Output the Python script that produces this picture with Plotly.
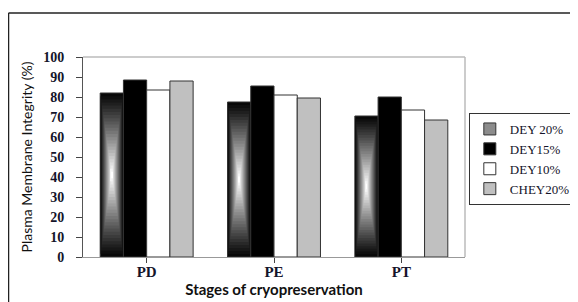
import plotly.graph_objects as go

stages = ["PD", "PE", "PT"]
series_names = ["DEY 20%", "DEY15%", "DEY10%", "CHEY20%"]
dey20 = [82, 77.5, 70.5]
dey15 = [88.5, 85.5, 80]
dey10 = [83.5, 81, 73.5]
chey20 = [88, 79.5, 68.5]
y_ticks = [0, 10, 20, 30, 40, 50, 60, 70, 80, 90, 100]

x = list(range(len(stages)))
group_w = 0.73
bw = group_w / 4
offsets = [-group_w / 2 + i * bw for i in range(4)]
edge = "#333333"
txt = "#14142a"

fig = go.Figure()

# legend helper for gradient series
fig.add_trace(go.Bar(x=x, y=[None] * 3, name=series_names[0], legendgroup="a",
                     marker=dict(color="#8c8c8c", line=dict(color=edge, width=1))))

# gradient bars (concentric rectangles, dark edges -> white centre)
N = 26
for k in range(N):
    f = k / N
    g = int(8 + 247 * (k / (N - 1)) ** 1.1)
    col = f"rgb({g},{g},{g})"
    fig.add_trace(go.Bar(
        x=x, y=[v * (1 - f) for v in dey20], base=[v * f / 2 for v in dey20],
        width=bw * (1 - f), offset=offsets[0] + bw * f / 2,
        marker=dict(color=col, line=dict(color=edge, width=1 if k == 0 else 0)),
        showlegend=False, hoverinfo="skip"))

others = [(dey15, "#000000", "b"), (dey10, "#ffffff", "c"), (chey20, "#c0c0c0", "d")]
for i, (vals, col, grp) in enumerate(others, start=1):
    fig.add_trace(go.Bar(x=x, y=vals, name=series_names[i], legendgroup=grp,
                         width=bw, offset=offsets[i],
                         marker=dict(color=col, line=dict(color=edge, width=1))))

fig.update_layout(
    width=570, height=294,
    margin=dict(l=75, r=113, t=49, b=45, autoexpand=False),
    paper_bgcolor="white", plot_bgcolor="white",
    barmode="overlay",
    showlegend=True,
    legend=dict(x=1.01, y=0.72, xanchor="left", yanchor="top",
                bordercolor="#333333", borderwidth=1, bgcolor="white",
                font=dict(family="Liberation Serif", size=13, color=txt),
                tracegroupgap=9, itemwidth=30, traceorder="normal"),
    xaxis=dict(tickmode="array", tickvals=x, ticktext=stages, range=[-0.5, 2.5],
               tickson="boundaries", ticks="outside", ticklen=5, tickcolor="#444",
               showline=True, linecolor="#999999", linewidth=1, showgrid=False,
               ticklabelstandoff=-4,
               tickfont=dict(family="Liberation Serif", size=15, color=txt, weight="bold"),
               title=dict(text="Stages of cryopreservation", standoff=1,
                          font=dict(family="Lato", size=15, color="#111111", weight="bold"))),
    yaxis=dict(range=[0, 100], tickvals=y_ticks, ticks="outside", ticklen=6, tickcolor="#444",
               showline=True, linecolor="#555555", linewidth=1, showgrid=False,
               zeroline=False, ticklabelstandoff=9,
               tickfont=dict(family="Liberation Serif", size=14, color=txt, weight="bold"),
               title=dict(text="Plasma Membrane Integrity (%)", standoff=7,
                          font=dict(family="Lato", size=14, color="#111111"))),
    shapes=[
        dict(type="line", xref="paper", yref="paper", x0=0, x1=1, y0=1, y1=1,
             line=dict(color="#bbbbbb", width=1.5)),
        dict(type="line", xref="paper", yref="paper", x0=1, x1=1, y0=0, y1=1,
             line=dict(color="#bbbbbb", width=1.5)),
        dict(type="line", xref="paper", yref="paper", x0=-0.195, x1=1.3, y0=1.22, y1=1.22,
             line=dict(color="#222222", width=1.5)),
        dict(type="line", xref="paper", yref="paper", x0=-0.195, x1=-0.195, y0=1.22, y1=-0.3,
             line=dict(color="#222222", width=1.5)),
    ],
)

fig.write_html("out.html")
